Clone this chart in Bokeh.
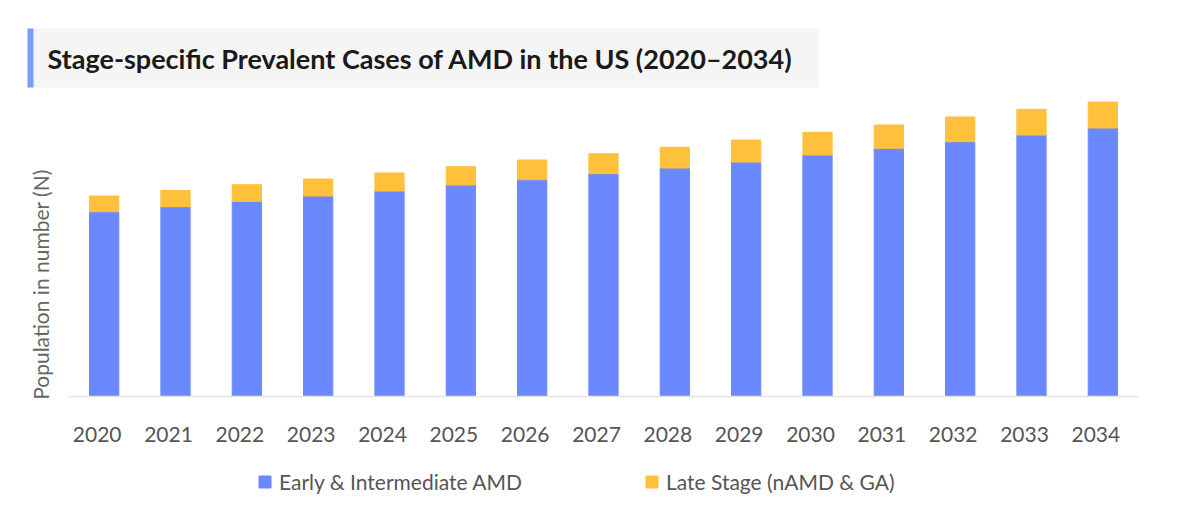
from bokeh.plotting import figure
from bokeh.models import (ColumnDataSource, Range1d, Label, BoxAnnotation,
                          Legend, LegendItem)
from bokeh.core.properties import value
from bokeh.embed import file_html
from bokeh.resources import INLINE
import math

# values (no y scale shown, so units are relative, ~millions)
years = ["2020", "2021", "2022", "2023", "2024", "2025", "2026", "2027",
         "2028", "2029", "2030", "2031", "2032", "2033", "2034"]
early_intermediate = [18.48, 18.98, 19.52, 20.05, 20.55, 21.15, 21.68, 22.28,
                      22.85, 23.45, 24.15, 24.82, 25.48, 26.15, 26.85]
late_stage = [1.57, 1.62, 1.66, 1.70, 1.80, 1.83, 1.97, 2.00,
              2.07, 2.20, 2.27, 2.33, 2.47, 2.57, 2.60]

stacks = ["early", "late"]
labels = ["Early & Intermediate AMD", "Late Stage (nAMD & GA)"]
colors = ["#6C88FF", "#FFC13B"]

W, H = 1184, 512
BASE = 396                  # px from top where the bars start
LEFT, RIGHT = 68, 1138      # px extent of the category band
UNIT = 0.1                  # data units per px
STEP = (RIGHT - LEFT) / len(years)

idx = list(range(len(years)))
source = ColumnDataSource(data=dict(x=idx, years=years, early=early_intermediate,
                                    late=late_stage,
                                    label_y=[-37.5 * UNIT] * len(years)))

# the plot area covers the whole canvas; labels and legend sit inside it
x_range = Range1d(-0.5 - LEFT / STEP, len(years) - 0.5 + (W - RIGHT) / STEP)
y_range = Range1d(-(H - BASE) * UNIT, BASE * UNIT)

p = figure(x_range=x_range, y_range=y_range, width=W, height=H,
           output_backend="svg", toolbar_location=None,
           min_border=0)

bars = p.vbar_stack(stacks, x="x", width=0.41, color=colors, source=source)

# baseline under the bars
p.line(x=[idx[0] - 0.5, idx[-1] + 0.5], y=[0, 0], line_color="#e3e3e3", line_width=1.5)

# year labels (sit slightly left of the bars, as in the original)
p.text(x="x", y="label_y", text="years", source=source, x_offset=-7,
       text_font=value("Lato"), text_font_size="21px", text_color="#555555",
       text_align="center", text_baseline="middle")

p.xaxis.visible = False
p.yaxis.visible = False
p.xgrid.grid_line_color = None
p.ygrid.grid_line_color = None
p.outline_line_color = None

leg = Legend(items=[LegendItem(label=lab, renderers=[r]) for lab, r in zip(labels, bars)])
leg.orientation = "horizontal"
leg.location = (257, 18)
leg.glyph_width = 15
leg.glyph_height = 15
leg.label_standoff = 7
leg.spacing = 122
leg.padding = 0
leg.margin = 0
leg.border_line_color = None
leg.background_fill_alpha = 0
leg.label_text_font = "Lato"
leg.label_text_font_size = "21px"
leg.label_text_color = "#555555"
p.add_layout(leg)

# title block: grey box with blue stripe on the left (screen px from bottom-left)
p.add_layout(BoxAnnotation(left=27, right=818, top=H - 28, bottom=H - 87,
                           left_units="screen", right_units="screen",
                           top_units="screen", bottom_units="screen",
                           fill_color="#F5F5F5", fill_alpha=1, line_color=None,
                           level="underlay"))
p.add_layout(BoxAnnotation(left=27, right=33, top=H - 28, bottom=H - 87,
                           left_units="screen", right_units="screen",
                           top_units="screen", bottom_units="screen",
                           fill_color="#7A9BFF", fill_alpha=1, line_color=None))
p.add_layout(Label(x=47, y=H - 58, x_units="screen", y_units="screen",
                   text="Stage-specific Prevalent Cases of AMD in the US (2020\u20132034)",
                   text_font="Lato", text_font_style="bold", text_font_size="27px",
                   text_color="#1a1a1a", text_baseline="middle"))

# y axis title
p.add_layout(Label(x=40, y=H - 284, x_units="screen", y_units="screen",
                   text="Population in number (N)", angle=math.pi / 2,
                   text_font="Lato", text_font_size="21px", text_color="#666666",
                   text_align="center", text_baseline="middle"))

open("out.html", "w").write(file_html(p, INLINE))
